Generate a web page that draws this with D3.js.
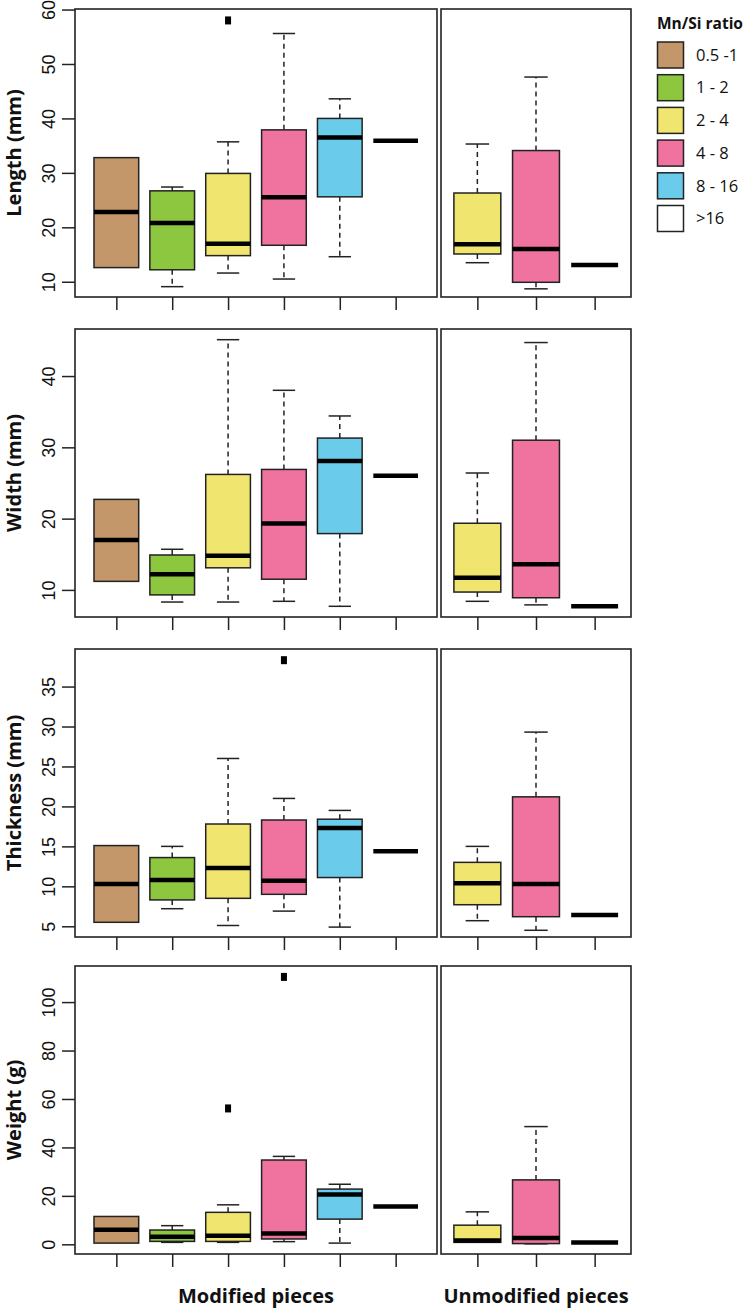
<!DOCTYPE html>
<html><head><meta charset="utf-8">
<script src="https://cdn.jsdelivr.net/npm/d3@7"></script>
<style>body{margin:0;background:#fff}</style>
</head><body>
<script>
// ---------- data ----------
const ratioClasses = ["0.5 -1", "1 - 2", "2 - 4", "4 - 8", "8 - 16", ">16"];
const classColors = ["#C4976A", "#8DC63F", "#F0E56E", "#F0729F", "#6ACBEA", "#FFFFFF"];
const modifiedClasses = ["0.5 -1", "1 - 2", "2 - 4", "4 - 8", "8 - 16", ">16"];
const unmodifiedClasses = ["2 - 4", "4 - 8", ">16"];
const groupTitles = ["Modified pieces", "Unmodified pieces"];
const legendTitle = "Mn/Si ratio";
const measureLabels = ["Length (mm)", "Width (mm)", "Thickness (mm)", "Weight (g)"];

// box stats: [lower whisker, Q1, median, Q3, upper whisker]
const lengthModified = [[12.6,12.6,22.8,32.8,32.8],[9.1,12.2,20.8,26.7,27.4],[11.6,14.8,17.0,29.9,35.7],[10.5,16.7,25.5,37.9,55.6],[14.6,25.6,36.5,40.0,43.6],[35.9,35.9,35.9,35.9,35.9]];
const lengthUnmodified = [[13.5,15.1,16.9,26.3,35.3],[8.7,9.9,16.0,34.1,47.6],[13.1,13.1,13.1,13.1,13.1]];
const lengthOutliers = [["2 - 4", 58.0]];
const lengthTicks = [10, 20, 30, 40, 50, 60];
const lengthLimits = [7.2, 60.1];

const widthModified = [[11.2,11.2,17.0,22.7,22.7],[8.3,9.3,12.2,14.9,15.7],[8.3,13.1,14.8,26.2,45.1],[8.4,11.5,19.3,26.9,38.0],[7.7,17.9,28.1,31.3,34.4],[26.0,26.0,26.0,26.0,26.0]];
const widthUnmodified = [[8.4,9.7,11.7,19.35,26.4],[7.9,8.9,13.6,31.0,44.7],[7.7,7.7,7.7,7.7,7.7]];
const widthOutliers = [];
const widthTicks = [10, 20, 30, 40];
const widthLimits = [6.2, 46.6];

const thicknessModified = [[5.5,5.5,10.3,15.1,15.1],[7.2,8.3,10.8,13.6,15.0],[5.1,8.5,12.3,17.8,26.0],[6.9,9.0,10.7,18.3,21.0],[4.9,11.1,17.3,18.4,19.5],[14.4,14.4,14.4,14.4,14.4]];
const thicknessUnmodified = [[5.7,7.7,10.4,13.0,15.0],[4.5,6.2,10.3,21.2,29.3],[6.4,6.4,6.4,6.4,6.4]];
const thicknessOutliers = [["4 - 8", 38.3]];
const thicknessTicks = [5, 10, 15, 20, 25, 30, 35];
const thicknessLimits = [3.66, 39.7];

const weightModified = [[0.5,0.5,6.0,11.5,11.5],[0.8,1.2,3.1,5.9,7.7],[0.8,1.2,3.5,13.2,16.3],[1.1,2.2,4.5,34.8,36.3],[0.5,10.4,20.6,22.8,24.8],[15.6,15.6,15.6,15.6,15.6]];
const weightUnmodified = [[0.8,0.8,1.6,7.9,13.4],[0.2,0.3,2.6,26.6,48.6],[0.7,0.7,0.7,0.7,0.7]];
const weightOutliers = [["2 - 4", 56.1], ["4 - 8", 110.4]];
const weightTicks = [0, 20, 40, 60, 80, 100];
const weightLimits = [-4.0, 114.9];

// ---------- layout ----------
const W = 743, H = 1311;
const svg = d3.select("body").append("svg").attr("width", W).attr("height", H);
const frameColor = "#222";
const leftX = [75, 437], rightX = [441, 631];
const panelH = 288, panelTops = [9, 329, 649, 966];
const boxW = 0.8, capW = 0.4;
const tickFont = "'Liberation Sans', Arial, sans-serif";
const titleFont = "'Open Sans', 'Noto Sans', sans-serif";

const xLeft = d3.scaleLinear().domain([0.26, 6.74]).range(leftX);
const xRight = d3.scaleLinear().domain([0.38, 3.62]).range(rightX);
const colorOf = d3.scaleOrdinal().domain(ratioClasses).range(classColors);

const panels = [
  [lengthModified, lengthUnmodified, lengthOutliers, lengthTicks, lengthLimits],
  [widthModified, widthUnmodified, widthOutliers, widthTicks, widthLimits],
  [thicknessModified, thicknessUnmodified, thicknessOutliers, thicknessTicks, thicknessLimits],
  [weightModified, weightUnmodified, weightOutliers, weightTicks, weightLimits]
];

function drawBoxes(g, x, y, classes, stats, outliers) {
  classes.forEach((cls, i) => {
    const pos = i + 1;
    const [lo, q1, med, q3, hi] = stats[i];
    const bx0 = x(pos - boxW / 2), bx1 = x(pos + boxW / 2);
    const cx0 = x(pos - capW / 2), cx1 = x(pos + capW / 2);
    const xc = x(pos);
    const single = lo === hi && q1 === q3;
    if (!single) {
      [[q3, hi], [q1, lo]].forEach(([a, b]) => {
        if (Math.abs(b - a) > 1e-9) {
          g.append("line").attr("x1", xc).attr("x2", xc).attr("y1", y(a)).attr("y2", y(b))
            .attr("stroke", frameColor).attr("stroke-width", 1.5).attr("stroke-dasharray", "5,4");
          g.append("line").attr("x1", cx0).attr("x2", cx1).attr("y1", y(b)).attr("y2", y(b))
            .attr("stroke", frameColor).attr("stroke-width", 1.5);
        }
      });
      g.append("rect").attr("x", bx0).attr("y", y(q3)).attr("width", bx1 - bx0).attr("height", y(q1) - y(q3))
        .attr("fill", colorOf(cls)).attr("stroke", frameColor).attr("stroke-width", 1.5);
    }
    g.append("line").attr("x1", bx0).attr("x2", bx1).attr("y1", y(med)).attr("y2", y(med))
      .attr("stroke", "#000").attr("stroke-width", 4.5);
  });
  outliers.forEach(([cls, v]) => {
    const pos = classes.indexOf(cls) + 1;
    g.append("rect").attr("x", x(pos) - 3).attr("y", y(v) - 4).attr("width", 6).attr("height", 8).attr("fill", "#000");
  });
}

panels.forEach((p, pi) => {
  const [mod, unmod, outl, ticks, lim] = p;
  const top = panelTops[pi], bottom = top + panelH;
  const y = d3.scaleLinear().domain(lim).range([bottom, top]);
  const g = svg.append("g");

  drawBoxes(g, xLeft, y, modifiedClasses, mod, outl);
  drawBoxes(g, xRight, y, unmodifiedClasses, unmod, []);

  g.append("rect").attr("x", leftX[0]).attr("y", top).attr("width", leftX[1] - leftX[0]).attr("height", panelH)
    .attr("fill", "none").attr("stroke", frameColor).attr("stroke-width", 1.6);
  g.append("rect").attr("x", rightX[0]).attr("y", top).attr("width", rightX[1] - rightX[0]).attr("height", panelH)
    .attr("fill", "none").attr("stroke", frameColor).attr("stroke-width", 1.6);

  const yAxis = d3.axisLeft(y).tickValues(ticks).tickSize(13).tickPadding(0).tickFormat(d3.format("d"));
  const ya = g.append("g").attr("transform", `translate(${leftX[0]},0)`).call(yAxis);
  ya.select(".domain").remove();
  ya.selectAll(".tick line").attr("stroke", frameColor).attr("stroke-width", 1.5);
  ya.selectAll(".tick text")
    .attr("font-family", tickFont).attr("font-size", 18).attr("fill", "#111")
    .attr("text-anchor", "middle").attr("dy", null).attr("x", null)
    .attr("transform", "translate(-20,0) rotate(-90)");

  [[xLeft, modifiedClasses], [xRight, unmodifiedClasses]].forEach(([x, cls]) => {
    const xa = g.append("g").attr("transform", `translate(0,${bottom})`)
      .call(d3.axisBottom(x).tickValues(d3.range(1, cls.length + 1)).tickSize(13).tickFormat(""));
    xa.select(".domain").remove();
    xa.selectAll(".tick line").attr("stroke", frameColor).attr("stroke-width", 1.5);
  });

  g.append("text")
    .attr("transform", `translate(21,${(top + bottom) / 2}) rotate(-90)`)
    .attr("text-anchor", "middle").attr("font-family", titleFont).attr("font-weight", 700)
    .attr("font-size", 20).attr("fill", "#111").text(measureLabels[pi]);
});

svg.append("text").attr("x", (leftX[0] + leftX[1]) / 2).attr("y", 1303).attr("text-anchor", "middle")
  .attr("font-family", titleFont).attr("font-weight", 700).attr("font-size", 20).attr("fill", "#111").text(groupTitles[0]);
svg.append("text").attr("x", (rightX[0] + rightX[1]) / 2).attr("y", 1303).attr("text-anchor", "middle")
  .attr("font-family", titleFont).attr("font-weight", 700).attr("font-size", 20).attr("fill", "#111").text(groupTitles[1]);

const lg = svg.append("g").attr("transform", "translate(657,0)");
lg.append("text").attr("x", 0).attr("y", 29).attr("font-family", titleFont).attr("font-weight", 700)
  .attr("font-size", 15.5).attr("fill", "#111").text(legendTitle);
ratioClasses.forEach((c, i) => {
  const ty = 42 + i * 32.7;
  lg.append("rect").attr("x", 0.5).attr("y", ty).attr("width", 26).attr("height", 26)
    .attr("fill", colorOf(c)).attr("stroke", frameColor).attr("stroke-width", 1.5);
  lg.append("text").attr("x", 39).attr("y", ty + 13).attr("dy", "0.35em")
    .attr("font-family", titleFont).attr("font-size", 16.5).attr("fill", "#111").text(c);
});
</script>
</body></html>
